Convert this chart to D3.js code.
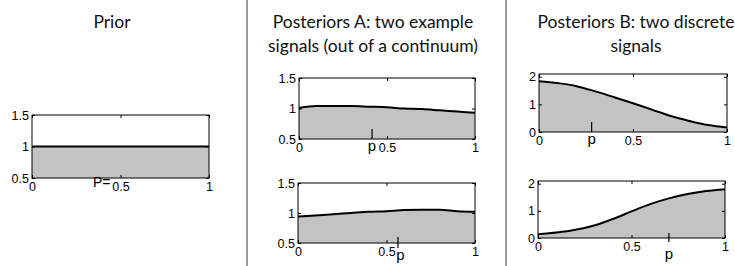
<!DOCTYPE html>
<html>
<head>
<meta charset="utf-8">
<script src="https://cdn.jsdelivr.net/npm/d3@7"></script>
<style>
  html, body { margin: 0; padding: 0; background: #fff; }
  svg { display: block; }
  .title { font-family: Lato, "Open Sans", sans-serif; font-size: 17.5px; fill: #111; }
  .plabel { font-family: "Liberation Sans", Arial, sans-serif; font-size: 15px; fill: #000; }
</style>
</head>
<body>
<svg id="chart" width="735" height="266"></svg>
<script>
// ---- data ----
const xGrid = [0, 0.1, 0.2, 0.3, 0.4, 0.5, 0.6, 0.7, 0.8, 0.9, 1];
const priorVals = [1, 1, 1, 1, 1, 1, 1, 1, 1, 1, 1];
const postA1 = [1.01, 1.04, 1.04, 1.04, 1.03, 1.02, 1.0, 0.99, 0.97, 0.95, 0.93];
const postA2 = [0.94, 0.96, 0.98, 1.0, 1.02, 1.03, 1.05, 1.055, 1.055, 1.03, 1.02];
const postB1 = [1.84, 1.77, 1.66, 1.47, 1.26, 1.04, 0.81, 0.58, 0.40, 0.25, 0.16];
const postB2 = [0.14, 0.20, 0.30, 0.46, 0.70, 0.98, 1.25, 1.46, 1.62, 1.73, 1.80];
// where the signal "p" sits on each posterior
const pMarks = [0.415, 0.565, 0.28, 0.70];
const xTicks = [0, 0.5, 1];
const yTicksA = [0.5, 1, 1.5];
const yTicksB = [0, 1, 2];
const titles = [
  { x: 112, lines: ["Prior"] },
  { x: 373, lines: ["Posteriors A: two example", "signals (out of a continuum)"] },
  { x: 636, lines: ["Posteriors B: two discrete", "signals"] }
];

const svg = d3.select("#chart");

// separators
[247, 506].forEach(sx => {
  svg.append("line")
    .attr("x1", sx).attr("x2", sx)
    .attr("y1", 0).attr("y2", 266)
    .attr("stroke", "#7a7a7a").attr("stroke-width", 1.5);
});

// titles
titles.forEach(t => {
  t.lines.forEach((ln, i) => {
    svg.append("text")
      .attr("class", "title")
      .attr("x", t.x)
      .attr("y", 28 + i * 24)
      .attr("text-anchor", "middle")
      .text(ln);
  });
});

// 面板設定 (位置 / 大小)
const panels = [
  { left: 32, top: 115, w: 177, h: 63, yDomain: [0.5, 1.5], yTicks: yTicksA, vals: priorVals, curve: d3.curveLinear },
  { left: 299, top: 78, w: 176, h: 61, yDomain: [0.5, 1.5], yTicks: yTicksA, vals: postA1, curve: d3.curveMonotoneX,
    p: pMarks[0], pTop: -10, pBot: 0, pBase: 151, pDx: 0 },
  { left: 298, top: 183, w: 177, h: 60, yDomain: [0.5, 1.5], yTicks: yTicksA, vals: postA2, curve: d3.curveMonotoneX,
    p: pMarks[1], pTop: -6, pBot: 5, pBase: 260, pDx: 2.5 },
  { left: 539, top: 74, w: 188, h: 58, yDomain: [0, 2.1], yTicks: yTicksB, vals: postB1, curve: d3.curveMonotoneX,
    p: pMarks[2], pTop: -10, pBot: 0, pBase: 144, pDx: 0 },
  { left: 538, top: 181, w: 187, h: 57, yDomain: [0, 2.1], yTicks: yTicksB, vals: postB2, curve: d3.curveMonotoneX,
    p: pMarks[3], pTop: -5, pBot: 4, pBase: 259, pDx: 0 }
];

function drawPanel(cfg) {
  const g = svg.append("g");
  const x = d3.scaleLinear().domain([0, 1]).range([cfg.left, cfg.left + cfg.w]);
  const y = d3.scaleLinear().domain(cfg.yDomain).range([cfg.top + cfg.h, cfg.top]);
  const pts = xGrid.map((v, i) => [v, cfg.vals[i]]);

  // 灰色面積
  g.append("path")
    .datum(pts)
    .attr("fill", "#c3c3c3")
    .attr("d", d3.area()
      .x(d => x(d[0]))
      .y0(y(cfg.yDomain[0]))
      .y1(d => y(d[1]))
      .curve(cfg.curve));

  // 曲線
  g.append("path")
    .datum(pts)
    .attr("fill", "none")
    .attr("stroke", "#000")
    .attr("stroke-width", 2)
    .attr("d", d3.line()
      .x(d => x(d[0]))
      .y(d => y(d[1]))
      .curve(cfg.curve));

  // axes, ticks pointing inward like matlab
  const bottom = g.append("g")
    .attr("transform", `translate(0,${cfg.top + cfg.h})`)
    .call(d3.axisBottom(x).tickValues(xTicks).tickSize(-3).tickPadding(4).tickFormat(d => String(d)));
  const top = g.append("g")
    .attr("transform", `translate(0,${cfg.top})`)
    .call(d3.axisTop(x).tickValues(xTicks).tickSize(-3).tickFormat(""));
  const left = g.append("g")
    .attr("transform", `translate(${cfg.left},0)`)
    .call(d3.axisLeft(y).tickValues(cfg.yTicks).tickSize(-3).tickPadding(3).tickFormat(d => String(d)));
  const right = g.append("g")
    .attr("transform", `translate(${cfg.left + cfg.w},0)`)
    .call(d3.axisRight(y).tickValues(cfg.yTicks).tickSize(-3).tickFormat(""));
  [bottom, top, left, right].forEach(a => {
    a.select(".domain").remove();
    a.selectAll(".tick line").attr("stroke", "#000");
    a.selectAll(".tick text")
      .style("font-family", "'Liberation Sans', Arial, sans-serif")
      .style("font-size", "12.5px")
      .attr("fill", "#000");
  });

  // box
  g.append("rect")
    .attr("x", cfg.left).attr("y", cfg.top)
    .attr("width", cfg.w).attr("height", cfg.h)
    .attr("fill", "none").attr("stroke", "#000").attr("stroke-width", 1);

  // marker for p
  if (cfg.p !== undefined) {
    const yb = cfg.top + cfg.h;
    g.append("line")
      .attr("x1", x(cfg.p)).attr("x2", x(cfg.p))
      .attr("y1", yb + cfg.pTop).attr("y2", yb + cfg.pBot)
      .attr("stroke", "#000").attr("stroke-width", 1.2);
    g.append("text")
      .attr("class", "plabel")
      .attr("x", x(cfg.p) + cfg.pDx)
      .attr("y", cfg.pBase)
      .attr("text-anchor", "middle")
      .text("p");
  } else {
    // prior: "P=" in front of the 0.5 label
    g.append("text")
      .attr("class", "plabel")
      .attr("x", x(0.5) - 10)
      .attr("y", 187)
      .attr("text-anchor", "end")
      .style("font-size", "14px")
      .text("P=");
  }
}

panels.forEach(drawPanel);
</script>
</body>
</html>
